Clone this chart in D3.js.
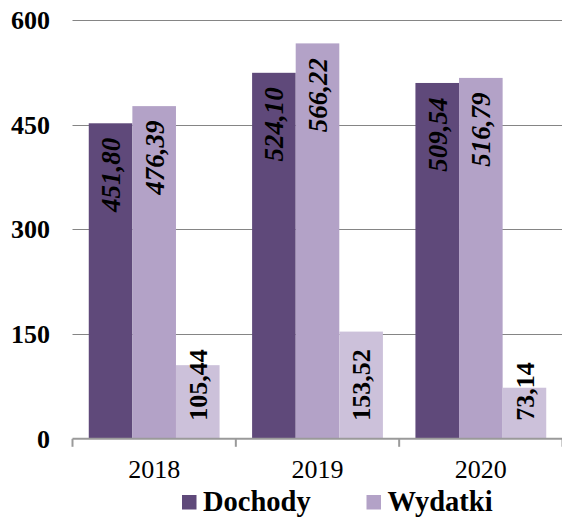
<!DOCTYPE html>
<html>
<head>
  <script src="https://d3js.org/d3.v7.min.js"></script>
  <style>
    body { margin: 0; background: #fff; }
  </style>
</head>
<body>
<script>
  var w = 562, h = 517;
  var fontFam = "'Liberation Serif', 'Times New Roman', Times, serif";

  var years = ["2018", "2019", "2020"];
  var series = ["Dochody", "Wydatki", "Inne"];
  var dochody = [451.80, 524.10, 509.54];
  var wydatki = [476.39, 566.22, 516.79];
  var inne = [105.44, 153.52, 73.14];
  var yTicks = [0, 150, 300, 450, 600];
  var legendNames = ["Dochody", "Wydatki"];

  var colors = ["#5f497a", "#b3a2c7", "#ccc1da"];

  var values = [dochody, wydatki, inne];

  var svg = d3.select("body").append("svg")
    .attr("width", w)
    .attr("height", h)
    .style("font-family", fontFam);

  var left = 72.5, right = 562.5;
  var y = d3.scaleLinear().domain([0, 600]).range([438.8, 19.8]);
  var x0 = d3.scaleBand().domain(years).range([left, right]).padding(0);
  var x1 = d3.scaleBand().domain(series).range([0, x0.bandwidth()])
    .paddingInner(0).paddingOuter(0.373);

  // gridlines
  svg.selectAll("line.grid")
    .data(yTicks.filter(function(d){ return d > 0; }))
    .enter().append("line")
    .attr("class", "grid")
    .attr("x1", left).attr("x2", w)
    .attr("y1", function(d){ return Math.round(y(d)) + 0.5; })
    .attr("y2", function(d){ return Math.round(y(d)) + 0.5; })
    .attr("stroke", "#858585")
    .attr("stroke-width", 1);

  // y labels
  svg.selectAll("text.ylab")
    .data(yTicks)
    .enter().append("text")
    .attr("class", "ylab")
    .attr("x", 50)
    .attr("y", function(d){ return y(d); })
    .attr("dy", "0.35em")
    .attr("text-anchor", "end")
    .attr("font-family", fontFam)
    .attr("font-weight", "bold")
    .attr("font-size", 26)
    .text(function(d){ return d; });

  // bars
  var data = [];
  years.forEach(function(yr, i){
    series.forEach(function(s, j){
      data.push({ year: yr, s: s, j: j, v: values[j][i] });
    });
  });

  svg.selectAll("rect.bar")
    .data(data)
    .enter().append("rect")
    .attr("class", "bar")
    .attr("x", function(d){ return x0(d.year) + x1(d.s); })
    .attr("width", x1.bandwidth())
    .attr("y", function(d){ return y(d.v); })
    .attr("height", function(d){ return y(0) - y(d.v); })
    .attr("fill", function(d){ return colors[d.j]; });

  // x axis
  var axisY = 438.8;
  svg.append("line")
    .attr("x1", left).attr("x2", w)
    .attr("y1", axisY).attr("y2", axisY)
    .attr("stroke", "#9a9a9a").attr("stroke-width", 2);
  svg.selectAll("line.tick")
    .data(years.concat(["end"]))
    .enter().append("line")
    .attr("class", "tick")
    .attr("x1", function(d){ return d === "end" ? right : x0(d); })
    .attr("x2", function(d){ return d === "end" ? right : x0(d); })
    .attr("y1", axisY).attr("y2", axisY + 8)
    .attr("stroke", "#9a9a9a").attr("stroke-width", 2);

  svg.selectAll("text.xlab")
    .data(years)
    .enter().append("text")
    .attr("class", "xlab")
    .attr("x", function(d){ return x0(d) + x0.bandwidth() / 2; })
    .attr("y", 478)
    .attr("text-anchor", "middle")
    .attr("font-family", fontFam)
    .attr("font-size", 26)
    .text(function(d){ return d; });

  // value labels
  svg.selectAll("text.val")
    .data(data)
    .enter().append("text")
    .attr("class", "val")
    .attr("transform", function(d){
      var cx = x0(d.year) + x1(d.s) + x1.bandwidth() / 2;
      var py = d.j < 2 ? y(d.v) + 14.5 : y(0) - 18;
      return "translate(" + cx + "," + py + ") rotate(-90)";
    })
    .attr("dy", "0.35em")
    .attr("text-anchor", function(d){ return d.j < 2 ? "end" : "start"; })
    .attr("font-family", fontFam)
    .attr("font-weight", "bold")
    .attr("font-style", function(d){ return d.j < 2 ? "italic" : "normal"; })
    .attr("font-size", function(d){ return d.j < 2 ? 27 : 26; })
    .text(function(d){ return d.v.toFixed(2).replace(".", ","); });

  // legend
  var legX = [182, 366.5];
  var lg = svg.selectAll("g.leg")
    .data(legendNames)
    .enter().append("g")
    .attr("class", "leg")
    .attr("transform", function(d, i){ return "translate(" + legX[i] + ",0)"; });
  lg.append("rect")
    .attr("x", 0).attr("y", 495)
    .attr("width", 14.5).attr("height", 14.5)
    .attr("fill", function(d, i){ return colors[i]; });
  lg.append("text")
    .attr("x", 21).attr("y", 511)
    .attr("font-family", fontFam)
    .attr("font-weight", "bold")
    .attr("font-size", 28.5)
    .text(function(d){ return d; });
</script>
</body>
</html>
